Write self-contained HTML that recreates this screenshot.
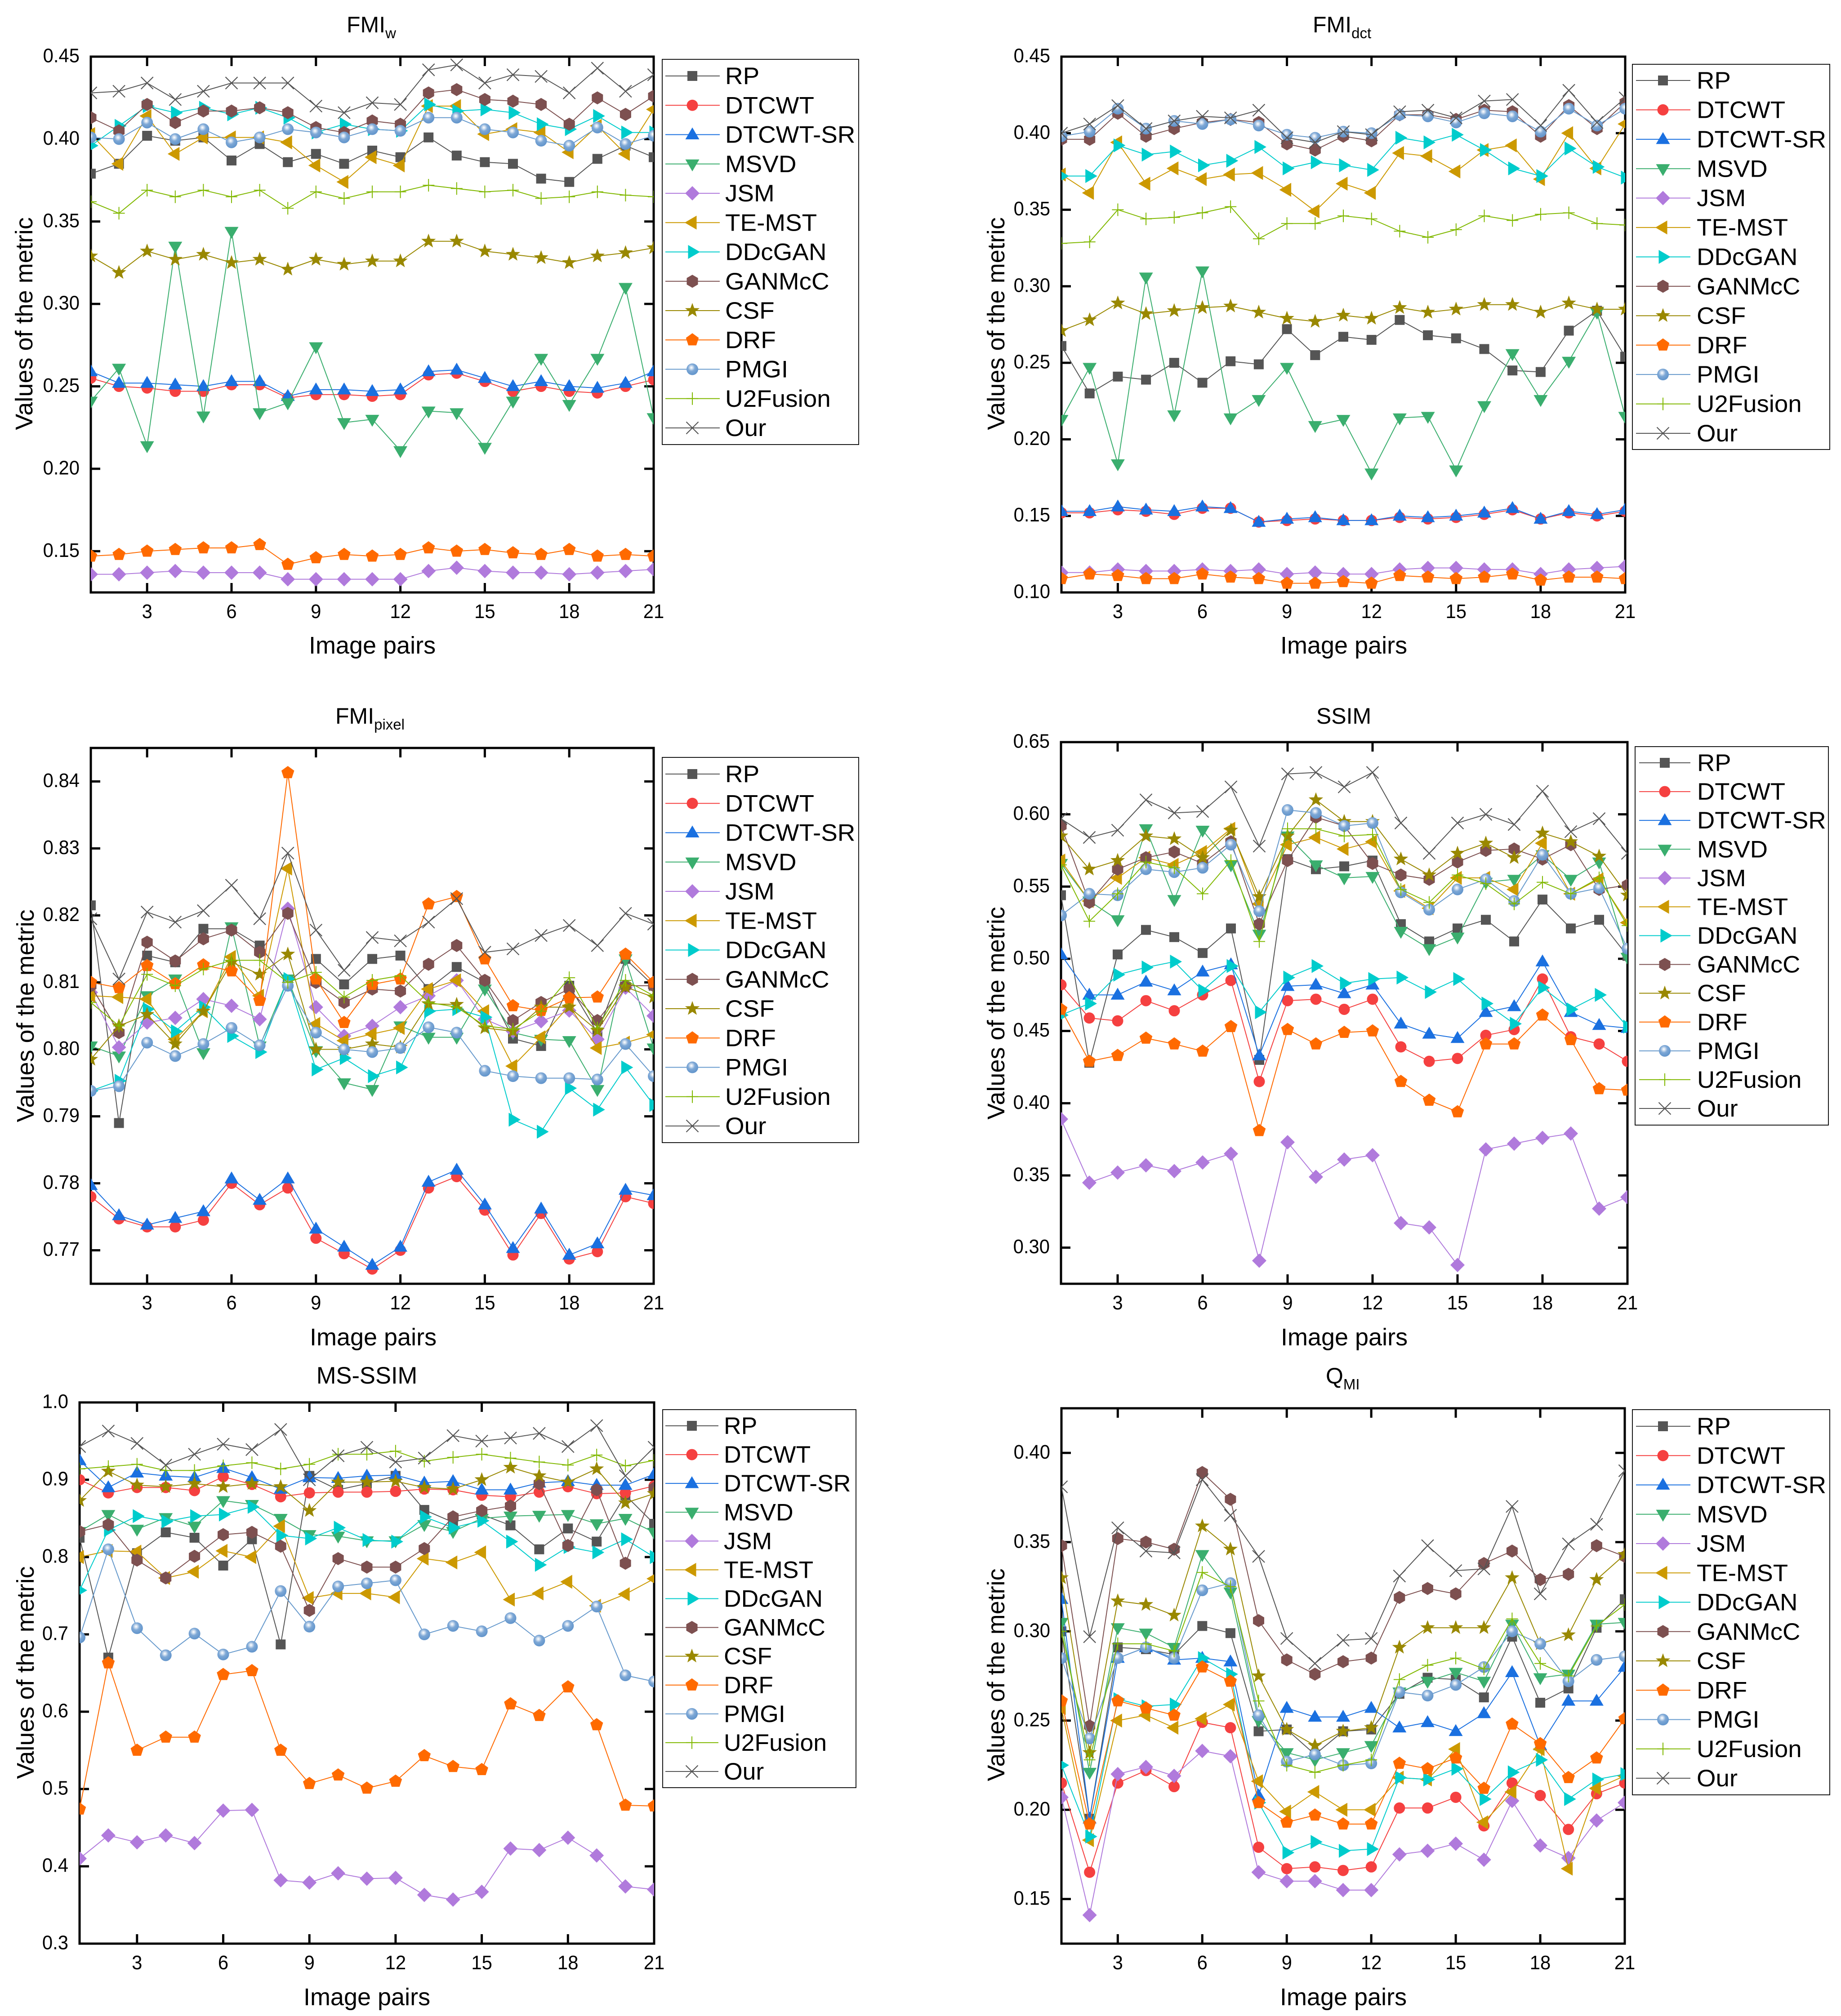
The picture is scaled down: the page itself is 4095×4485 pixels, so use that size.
<!DOCTYPE html>
<html><head><meta charset="utf-8"><title>Fusion metric comparison</title>
<style>html,body{margin:0;padding:0;background:#fff}svg{display:block}text{font-family:"Liberation Sans",Arial,sans-serif;fill:#000}</style>
</head><body>
<svg id="figure" xmlns="http://www.w3.org/2000/svg" width="4095" height="4485" viewBox="0 0 4095 4485">
<defs><radialGradient id="sphere" cx="0.42" cy="0.36" r="0.6"><stop offset="0" stop-color="#ffffff"/><stop offset="0.18" stop-color="#d8e4f2"/><stop offset="0.5" stop-color="#7ea8d6"/><stop offset="1" stop-color="#6496cc"/></radialGradient></defs>
</svg>
<script>
const imagePairs=[1,2,3,4,5,6,7,8,9,10,11,12,13,14,15,16,17,18,19,20,21];
const xTickValues=[3,6,9,12,15,18,21];
const seriesNames=['RP','DTCWT','DTCWT-SR','MSVD','JSM','TE-MST','DDcGAN','GANMcC','CSF','DRF','PMGI','U2Fusion','Our'];

const fmiwTicks=['0.15','0.20','0.25','0.30','0.35','0.40','0.45'];
const fmiwRP=[.379,.385,.402,.399,.401,.387,.397,.386,.391,.385,.393,.389,.401,.390,.386,.385,.376,.374,.388,.396,.389];
const fmiwDTCWT=[.255,.250,.249,.247,.247,.251,.251,.243,.245,.245,.244,.245,.257,.258,.253,.247,.250,.247,.246,.250,.254];
const fmiwSR=[.259,.252,.252,.251,.250,.253,.253,.244,.248,.248,.247,.248,.259,.260,.255,.250,.253,.250,.249,.252,.259];
const fmiwMSVD=[.241,.261,.214,.335,.232,.344,.234,.240,.274,.228,.230,.211,.235,.234,.213,.241,.267,.239,.267,.310,.231];
const fmiwJSM=[.136,.136,.137,.138,.137,.137,.137,.133,.133,.133,.133,.133,.138,.140,.138,.137,.137,.136,.137,.138,.139];
const fmiwTE=[.403,.385,.414,.391,.401,.401,.401,.398,.384,.374,.389,.384,.420,.420,.403,.406,.404,.392,.408,.391,.418];
const fmiwDD=[.396,.408,.420,.416,.419,.415,.419,.413,.404,.409,.406,.405,.421,.417,.418,.416,.409,.406,.414,.404,.404];
const fmiwGAN=[.413,.405,.421,.410,.417,.417,.419,.416,.407,.404,.411,.409,.428,.430,.424,.423,.421,.409,.425,.415,.426];
const fmiwCSF=[.329,.319,.332,.327,.330,.325,.327,.321,.327,.324,.326,.326,.338,.338,.332,.330,.328,.325,.329,.331,.334];
const fmiwDRF=[.147,.148,.150,.151,.152,.152,.154,.142,.146,.148,.147,.148,.152,.150,.151,.149,.148,.151,.147,.148,.147];
const fmiwPMGI=[.401,.400,.410,.400,.406,.398,.401,.406,.404,.401,.406,.405,.413,.413,.406,.404,.399,.396,.407,.397,.402];
const fmiwU2=[.362,.355,.369,.365,.369,.365,.369,.358,.368,.364,.368,.368,.372,.370,.368,.369,.364,.365,.368,.366,.365];
const fmiwOur=[.428,.429,.434,.424,.429,.434,.434,.434,.420,.416,.422,.421,.442,.445,.434,.439,.438,.428,.443,.429,.439];

const fmidTicks=['0.10','0.15','0.20','0.25','0.30','0.35','0.40','0.45'];
const fmidRP=[.261,.230,.241,.239,.250,.237,.251,.249,.272,.255,.267,.265,.278,.268,.266,.259,.245,.244,.271,.284,.254];
const fmidDTCWT=[.152,.152,.154,.153,.151,.155,.155,.146,.147,.148,.147,.147,.149,.148,.149,.151,.154,.148,.152,.150,.153];
const fmidSR=[.153,.153,.156,.154,.153,.156,.155,.146,.148,.149,.147,.147,.150,.149,.150,.152,.155,.148,.153,.151,.154];
const fmidMSVD=[.213,.247,.184,.306,.216,.310,.214,.226,.247,.209,.213,.178,.214,.215,.180,.222,.256,.226,.251,.283,.215];
const fmidJSM=[.113,.113,.115,.114,.114,.115,.114,.115,.112,.113,.112,.112,.115,.116,.116,.115,.115,.112,.115,.116,.117];
const fmidTE=[.373,.361,.394,.367,.377,.370,.373,.374,.363,.349,.367,.361,.387,.385,.375,.389,.392,.370,.400,.377,.406];
const fmidDD=[.372,.372,.392,.386,.388,.379,.382,.391,.377,.381,.379,.376,.397,.394,.399,.389,.377,.372,.390,.378,.371];
const fmidGAN=[.396,.396,.413,.398,.403,.407,.409,.407,.393,.389,.398,.395,.412,.412,.409,.415,.414,.398,.418,.403,.420];
const fmidCSF=[.271,.278,.289,.282,.284,.286,.287,.283,.279,.277,.281,.279,.286,.283,.285,.288,.288,.283,.289,.285,.285];
const fmidDRF=[.109,.112,.111,.109,.109,.112,.110,.109,.106,.106,.107,.106,.111,.110,.109,.110,.112,.108,.110,.110,.109];
const fmidPMGI=[.398,.401,.416,.403,.408,.406,.409,.405,.399,.397,.401,.400,.412,.411,.407,.413,.411,.401,.416,.405,.416];
const fmidU2=[.328,.329,.350,.344,.345,.348,.352,.331,.341,.341,.346,.344,.336,.332,.337,.346,.343,.347,.348,.341,.340];
const fmidOur=[.400,.406,.418,.403,.408,.411,.410,.415,.397,.394,.401,.399,.414,.415,.410,.421,.422,.405,.428,.407,.423];

const fmipTicks=['0.77','0.78','0.79','0.80','0.81','0.82','0.83','0.84'];
const fmipRP=[.8215,.789,.814,.813,.818,.818,.8155,.810,.8135,.8097,.8135,.814,.809,.8123,.810,.8016,.8005,.8095,.8025,.8135,.8095];
const fmipDTCWT=[.778,.7747,.7735,.7735,.7745,.780,.7768,.7793,.7718,.7695,.7672,.770,.7793,.781,.776,.7693,.7755,.7687,.7698,.778,.777];
const fmipSR=[.7797,.7752,.7738,.7748,.7758,.7807,.7775,.7807,.7732,.7705,.7678,.7705,.7802,.782,.7768,.7703,.7762,.7693,.771,.779,.7782];
const fmipMSVD=[.8005,.799,.808,.8105,.7995,.8183,.8005,.8105,.7998,.795,.794,.8035,.8018,.8018,.809,.8025,.8015,.8013,.794,.8135,.8002];
const fmipJSM=[.8085,.8003,.804,.8047,.8075,.8065,.8045,.821,.8063,.802,.8035,.8063,.808,.8103,.8045,.8027,.8042,.8058,.8015,.8092,.805];
const fmipTE=[.808,.8078,.8075,.8015,.8057,.8138,.808,.827,.8038,.8013,.8023,.8032,.809,.8103,.8057,.7975,.8018,.8065,.8002,.801,.8022];
const fmipDD=[.7938,.7953,.806,.8027,.8063,.802,.7996,.8105,.797,.7987,.796,.7973,.8057,.806,.8048,.7895,.7877,.7942,.791,.7973,.7917];
const fmipGAN=[.8095,.8025,.816,.8132,.8165,.8178,.8145,.8203,.81,.807,.809,.8087,.8127,.8155,.8103,.8043,.807,.809,.8043,.8095,.8095];
const fmipCSF=[.7985,.8035,.8052,.8008,.8057,.813,.8112,.8142,.80,.80,.8008,.8003,.8068,.8067,.8032,.8027,.8063,.8063,.8028,.8093,.8078];
const fmipDRF=[.81,.8092,.8125,.8098,.8126,.8117,.8073,.8413,.8105,.804,.8097,.8105,.8217,.8228,.8135,.8065,.8058,.8077,.8078,.8142,.81];
const fmipPMGI=[.7938,.7945,.801,.799,.8008,.8032,.8006,.8095,.8025,.80,.7996,.8002,.8033,.8025,.7968,.796,.7957,.7957,.7955,.8008,.796];
const fmipU2=[.807,.8035,.8112,.8095,.812,.8133,.8133,.81,.8115,.8078,.8103,.811,.807,.8063,.8035,.803,.8057,.8107,.8032,.8103,.808];
const fmipOur=[.8195,.8105,.8205,.819,.8207,.8245,.8195,.8293,.8178,.8118,.8167,.8162,.819,.8225,.8145,.815,.817,.8185,.8155,.8203,.8187];

const ssimTicks=['0.30','0.35','0.40','0.45','0.50','0.55','0.60','0.65'];
const ssimRP=[.544,.428,.503,.520,.515,.504,.521,.430,.569,.562,.564,.568,.524,.512,.521,.527,.512,.541,.521,.527,.502];
const ssimDTCWT=[.482,.459,.457,.471,.464,.475,.485,.415,.471,.472,.465,.472,.439,.429,.431,.447,.451,.486,.446,.441,.429];
const ssimSR=[.503,.475,.475,.484,.478,.491,.496,.433,.481,.482,.476,.482,.455,.448,.445,.463,.467,.498,.463,.454,.452];
const ssimMSVD=[.566,.540,.527,.590,.541,.589,.565,.517,.585,.565,.556,.557,.519,.507,.515,.553,.555,.572,.555,.567,.501];
const ssimJSM=[.389,.345,.352,.357,.353,.359,.365,.291,.373,.349,.361,.364,.317,.314,.288,.368,.372,.376,.379,.327,.335];
const ssimTE=[.568,.540,.556,.570,.565,.574,.590,.538,.579,.584,.576,.581,.547,.535,.556,.556,.548,.580,.545,.555,.525];
const ssimDD=[.461,.469,.489,.494,.498,.478,.495,.463,.487,.495,.483,.486,.487,.477,.486,.469,.455,.480,.465,.475,.453];
const ssimGAN=[.592,.539,.562,.570,.574,.566,.581,.524,.568,.598,.592,.566,.558,.555,.567,.575,.576,.569,.579,.548,.551];
const ssimCSF=[.585,.562,.568,.585,.583,.570,.589,.543,.585,.610,.595,.595,.569,.558,.573,.580,.570,.587,.581,.571,.544];
const ssimDRF=[.465,.429,.433,.445,.441,.436,.453,.381,.451,.441,.449,.450,.415,.402,.394,.441,.441,.461,.444,.410,.409];
const ssimPMGI=[.530,.545,.544,.562,.560,.563,.579,.533,.603,.601,.592,.594,.546,.534,.548,.555,.540,.572,.545,.549,.507];
const ssimU2=[.565,.526,.545,.567,.563,.545,.568,.512,.590,.590,.585,.586,.548,.539,.558,.552,.538,.553,.545,.556,.523];
const ssimOur=[.597,.584,.589,.610,.601,.602,.619,.578,.628,.629,.619,.629,.594,.573,.594,.600,.593,.616,.588,.597,.573];

const msTicks=['0.3','0.4','0.5','0.6','0.7','0.8','0.9','1.0'];
const msRP=[.825,.670,.805,.832,.825,.789,.823,.687,.905,.887,.895,.905,.861,.845,.855,.841,.810,.837,.820,.880,.843];
const msDTCWT=[.900,.883,.890,.890,.886,.904,.894,.878,.883,.884,.884,.885,.888,.887,.880,.878,.884,.891,.882,.883,.892];
const msSR=[.925,.890,.909,.905,.903,.915,.903,.888,.903,.902,.905,.906,.896,.898,.887,.887,.896,.898,.893,.893,.907];
const msMSVD=[.833,.855,.836,.851,.840,.873,.868,.850,.829,.827,.821,.821,.842,.833,.850,.853,.854,.855,.843,.850,.832];
const msJSM=[.410,.440,.431,.440,.430,.472,.473,.382,.379,.391,.384,.385,.363,.357,.367,.423,.421,.437,.414,.374,.370];
const msTE=[.800,.808,.807,.773,.781,.808,.800,.840,.747,.753,.753,.748,.798,.793,.806,.745,.753,.768,.737,.752,.772];
const msDD=[.757,.835,.853,.846,.853,.855,.865,.828,.824,.838,.822,.820,.852,.838,.847,.820,.790,.813,.806,.823,.800];
const msGAN=[.833,.842,.796,.773,.801,.829,.832,.814,.731,.798,.787,.787,.811,.852,.860,.866,.895,.815,.887,.792,.889];
const msCSF=[.873,.911,.893,.891,.895,.891,.895,.891,.860,.897,.897,.898,.890,.888,.900,.916,.905,.897,.914,.870,.882];
const msDRF=[.474,.663,.550,.567,.567,.648,.653,.550,.507,.518,.501,.510,.543,.529,.525,.610,.595,.632,.583,.479,.478];
const msPMGI=[.696,.810,.708,.673,.701,.674,.684,.756,.710,.762,.766,.770,.700,.711,.704,.721,.692,.711,.736,.647,.639];
const msU2=[.914,.917,.920,.912,.912,.918,.922,.914,.920,.933,.933,.937,.924,.929,.933,.928,.923,.919,.932,.918,.925];
const msOur=[.943,.963,.947,.919,.933,.946,.939,.965,.900,.931,.942,.923,.928,.957,.950,.954,.960,.943,.970,.905,.942];

const qmiTicks=['0.15','0.20','0.25','0.30','0.35','0.40'];
const qmiRP=[.300,.195,.291,.290,.287,.303,.299,.244,.245,.231,.244,.245,.265,.274,.273,.263,.297,.260,.268,.302,.318];
const qmiDTCWT=[.215,.165,.215,.222,.213,.249,.246,.179,.167,.168,.166,.168,.201,.201,.207,.191,.215,.208,.189,.209,.215];
const qmiSR=[.318,.195,.285,.291,.284,.285,.283,.208,.257,.252,.252,.257,.246,.249,.244,.254,.277,.236,.261,.261,.280];
const qmiMSVD=[.305,.221,.302,.299,.291,.343,.322,.250,.232,.228,.232,.236,.266,.272,.277,.272,.304,.274,.276,.304,.305];
const qmiJSM=[.207,.141,.220,.224,.219,.233,.230,.165,.160,.160,.155,.155,.175,.177,.181,.172,.205,.180,.173,.194,.204];
const qmiTE=[.257,.183,.250,.253,.246,.251,.259,.216,.199,.210,.200,.200,.218,.217,.234,.193,.210,.234,.167,.212,.219];
const qmiDD=[.225,.185,.262,.258,.259,.285,.276,.204,.176,.182,.177,.178,.218,.217,.223,.206,.221,.228,.206,.217,.220];
const qmiGAN=[.348,.247,.352,.350,.346,.389,.374,.306,.284,.276,.283,.285,.319,.324,.321,.338,.345,.329,.332,.348,.342];
const qmiCSF=[.330,.232,.317,.315,.309,.359,.346,.275,.245,.236,.244,.246,.291,.302,.302,.302,.330,.293,.298,.329,.343];
const qmiDRF=[.261,.192,.261,.257,.253,.280,.272,.204,.193,.197,.192,.192,.226,.223,.229,.212,.248,.237,.218,.229,.251];
const qmiPMGI=[.285,.240,.285,.291,.285,.323,.327,.253,.227,.231,.225,.226,.266,.264,.270,.280,.300,.293,.272,.284,.286];
const qmiU2=[.300,.228,.293,.293,.289,.333,.325,.261,.225,.221,.225,.228,.273,.281,.285,.279,.307,.282,.275,.303,.315];
const qmiOur=[.381,.297,.358,.345,.344,.385,.365,.342,.296,.282,.295,.296,.331,.348,.334,.335,.370,.321,.349,.360,.390];

const seriesColors=['#555555','#f54040','#1a70e0','#3aae6e','#b07adc','#cc9900','#00cccc','#7d5050','#998800','#ff6a00','#6699cc','#80b800','#555555'];
const markerKinds=['square','circle','up','down','diamond','left','right','hex','star','pent','ball','plus','cross'];

const panels=[
{key:'fmiw',main:'FMI',sub:'w',tx:771,ty:72,anchor:'start',tfs:50,L:202,R:1454,T:126,B:1318,ymin:.125,ymax:.45,ticks:fmiwTicks,
 data:[fmiwRP,fmiwDTCWT,fmiwSR,fmiwMSVD,fmiwJSM,fmiwTE,fmiwDD,fmiwGAN,fmiwCSF,fmiwDRF,fmiwPMGI,fmiwU2,fmiwOur],
 xtx:828,xty:1454,ytx:72,yty:720,lg:{l:1473,r:1910,t:132,b:989,first:169,last:952,x1:1480,x2:1601,m:1540,tx:1613,sx:1.035}},
{key:'fmid',main:'FMI',sub:'dct',tx:2920,ty:72,anchor:'start',tfs:50,L:2361,R:3615,T:126,B:1318,ymin:.10,ymax:.45,ticks:fmidTicks,
 data:[fmidRP,fmidDTCWT,fmidSR,fmidMSVD,fmidJSM,fmidTE,fmidDD,fmidGAN,fmidCSF,fmidDRF,fmidPMGI,fmidU2,fmidOur],
 xtx:2989,xty:1454,ytx:2234,yty:720,lg:{l:3631,r:4070,t:143,b:1000,first:179,last:964,x1:3639,x2:3760,m:3699,tx:3774,sx:1.03}},
{key:'fmip',main:'FMI',sub:'pixel',tx:746,ty:1610,anchor:'start',tfs:50,L:202,R:1454,T:1664,B:2856,ymin:.765,ymax:.845,ticks:fmipTicks,
 data:[fmipRP,fmipDTCWT,fmipSR,fmipMSVD,fmipJSM,fmipTE,fmipDD,fmipGAN,fmipCSF,fmipDRF,fmipPMGI,fmipU2,fmipOur],
 xtx:830,xty:2993,ytx:75,yty:2260,lg:{l:1473,r:1910,t:1685,b:2542,first:1722,last:2505,x1:1480,x2:1601,m:1540,tx:1613,sx:1.035}},
{key:'ssim',main:'SSIM',sub:'',tx:2989,ty:1610,anchor:'middle',tfs:50,L:2360,R:3620,T:1651,B:2856,ymin:.275,ymax:.65,ticks:ssimTicks,
 data:[ssimRP,ssimDTCWT,ssimSR,ssimMSVD,ssimJSM,ssimTE,ssimDD,ssimGAN,ssimCSF,ssimDRF,ssimPMGI,ssimU2,ssimOur],
 xtx:2990,xty:2993,ytx:2234,yty:2254,lg:{l:3637,r:4067,t:1661,b:2503,first:1697,last:2466,x1:3646,x2:3760,m:3703,tx:3775,sx:1.025}},
{key:'ms',main:'MS-SSIM',sub:'',tx:816,ty:3078,anchor:'middle',tfs:52.5,L:177,R:1455,T:3120,B:4324,ymin:.3,ymax:1.0,ticks:msTicks,
 data:[msRP,msDTCWT,msSR,msMSVD,msJSM,msTE,msDD,msGAN,msCSF,msDRF,msPMGI,msU2,msOur],
 xtx:816,xty:4461,ytx:75,yty:3721,lg:{l:1474,r:1904,t:3136,b:3977,first:3172,last:3941,x1:1480,x2:1598,m:1539,tx:1610,sx:1.01}},
{key:'qmi',main:'Q',sub:'MI',tx:2949,ty:3078,anchor:'start',tfs:50,L:2361,R:3614,T:3133,B:4324,ymin:.125,ymax:.425,ticks:qmiTicks,
 data:[qmiRP,qmiDTCWT,qmiSR,qmiMSVD,qmiJSM,qmiTE,qmiDD,qmiGAN,qmiCSF,qmiDRF,qmiPMGI,qmiU2,qmiOur],
 xtx:2988,xty:4461,ytx:2234,yty:3726,lg:{l:3631,r:4070,t:3136,b:3993,first:3173,last:3956,x1:3639,x2:3760,m:3699,tx:3774,sx:1.03}}
];

const NS='http://www.w3.org/2000/svg';
const root=document.getElementById('figure');
function mk(tag,attrs,parent){const e=document.createElementNS(NS,tag);for(const k in attrs)e.setAttribute(k,attrs[k]);parent.appendChild(e);return e;}
function poly(r,n,start){const p=[];for(let i=0;i<n;i++){const a=start+i*2*Math.PI/n;p.push((r*Math.cos(a)).toFixed(2)+','+(r*Math.sin(a)).toFixed(2));}return p.join(' ');}
function starPts(R,r){const p=[];for(let i=0;i<10;i++){const a=-Math.PI/2+i*Math.PI/5,q=i%2?r:R;p.push((q*Math.cos(a)).toFixed(2)+','+(q*Math.sin(a)).toFixed(2));}return p.join(' ');}
function drawMarker(kind,color,x,y,parent){
  const g=mk('g',{transform:'translate('+x.toFixed(2)+' '+y.toFixed(2)+')'},parent);
  if(kind==='square')mk('rect',{x:-11,y:-11,width:22,height:22,fill:color},g);
  else if(kind==='circle')mk('circle',{r:12.5,fill:color},g);
  else if(kind==='ball')mk('circle',{r:13,fill:'url(#sphere)'},g);
  else if(kind==='up')mk('polygon',{points:'0,-16 15.5,10.5 -15.5,10.5',fill:color},g);
  else if(kind==='down')mk('polygon',{points:'0,16.5 15.5,-10 -15.5,-10',fill:color},g);
  else if(kind==='left')mk('polygon',{points:'-17,0 9.5,-15.5 9.5,15.5',fill:color},g);
  else if(kind==='right')mk('polygon',{points:'17,0 -9.5,-15.5 -9.5,15.5',fill:color},g);
  else if(kind==='diamond')mk('polygon',{points:'0,-16 16,0 0,16 -16,0',fill:color},g);
  else if(kind==='hex')mk('polygon',{points:'0,-14.5 12.5,-7.2 12.5,7.2 0,14.5 -12.5,7.2 -12.5,-7.2',fill:color},g);
  else if(kind==='star')mk('polygon',{points:starPts(17,7),fill:color},g);
  else if(kind==='pent')mk('polygon',{points:poly(15,5,-Math.PI/2),fill:color},g);
  else if(kind==='plus')mk('path',{d:'M0 -14V14M-13 0H13',stroke:color,'stroke-width':2,fill:'none'},g);
  else if(kind==='cross')mk('path',{d:'M-13.5 -13.5L13.5 13.5M-13.5 13.5L13.5 -13.5',stroke:color,'stroke-width':2.2,fill:'none'},g);
  return g;
}
function label(str,x,y,size,anchor,parent,sx){
  const t=mk('text',{'font-size':size,'text-anchor':anchor,transform:'translate('+x+' '+y+') scale('+(sx||1)+' 1)'},parent);
  t.textContent=str;return t;
}
panels.forEach(function(p){
  const g=mk('g',{},root);
  
  
  const xS=function(v){return p.L+(v-imagePairs[0])*(p.R-p.L)/(imagePairs[imagePairs.length-1]-imagePairs[0]);};
  const yS=function(v){return p.B-(v-p.ymin)*(p.B-p.T)/(p.ymax-p.ymin);};

  const title=mk('text',{'font-size':p.tfs,'text-anchor':p.anchor,x:p.tx,y:p.ty},g);
  
  
  title.appendChild(document.createTextNode(p.main));
  if(p.sub){const s=mk('tspan',{'font-size':33,dy:13},title);s.textContent=p.sub;}

  const frame=mk('rect',{x:p.L,y:p.T,width:p.R-p.L,height:p.B-p.T,fill:'none',stroke:'#000','stroke-width':5},g);
  
  

  xTickValues.forEach(function(v){
    const x=xS(v);
    const tk=mk('path',{d:'M'+x+' '+p.T+'V'+(p.T+21)+'M'+x+' '+p.B+'V'+(p.B-21),stroke:'#000','stroke-width':5},g);
    
    
    const t=label(String(v),x,p.B+57,44,'middle',g,.95);
    
    
  });
  p.ticks.forEach(function(s){
    const y=yS(parseFloat(s));
    const tk=mk('path',{d:'M'+p.L+' '+y+'H'+(p.L+21)+'M'+p.R+' '+y+'H'+(p.R-21),stroke:'#000','stroke-width':5},g);
    
    
    const t=label(s,p.L-25,y+12.5,44,'end',g,.95);
    
    
  });
  const xt=label('Image pairs',p.xtx,p.xty,54,'middle',g);
  
  
  const yt=mk('text',{'font-size':54,'text-anchor':'middle',transform:'translate('+p.ytx+' '+p.yty+') rotate(-90)'},g);
  yt.textContent='Values of the metric';
  
  

  const cid='clip-'+p.key;
  const cp=mk('clipPath',{id:cid},g);
  mk('rect',{x:p.L,y:p.T,width:p.R-p.L,height:p.B-p.T},cp);
  const plot=mk('g',{'clip-path':'url(#'+cid+')'},g);
  
  
  p.data.forEach(function(vals,i){
    const sg=mk('g',{},plot);
    
    
    const pts=vals.map(function(v,j){return xS(imagePairs[j]).toFixed(2)+','+yS(v).toFixed(2);}).join(' ');
    const line=mk('polyline',{points:pts,fill:'none',stroke:seriesColors[i],'stroke-width':2,'stroke-linejoin':'round'},sg);
    
    
    vals.forEach(function(v,j){
      const m=drawMarker(markerKinds[i],seriesColors[i],xS(imagePairs[j]),yS(v),sg);
      
      
    });
  });

  const lg=p.lg;
  const lgG=mk('g',{},g);
  
  
  mk('rect',{x:lg.l,y:lg.t,width:lg.r-lg.l,height:lg.b-lg.t,fill:'#fff',stroke:'#000','stroke-width':1.8},lgG);
  seriesNames.forEach(function(n,i){
    const y=lg.first+i*(lg.last-lg.first)/(seriesNames.length-1);
    const row=mk('g',{},lgG);
    
    
    mk('line',{x1:lg.x1,x2:lg.x2,y1:y,y2:y,stroke:seriesColors[i],'stroke-width':2},row);
    drawMarker(markerKinds[i],seriesColors[i],lg.m,y,row);
    label(n,lg.tx,y+18,53,'start',row,lg.sx);
  });
});
</script>
</body></html>
